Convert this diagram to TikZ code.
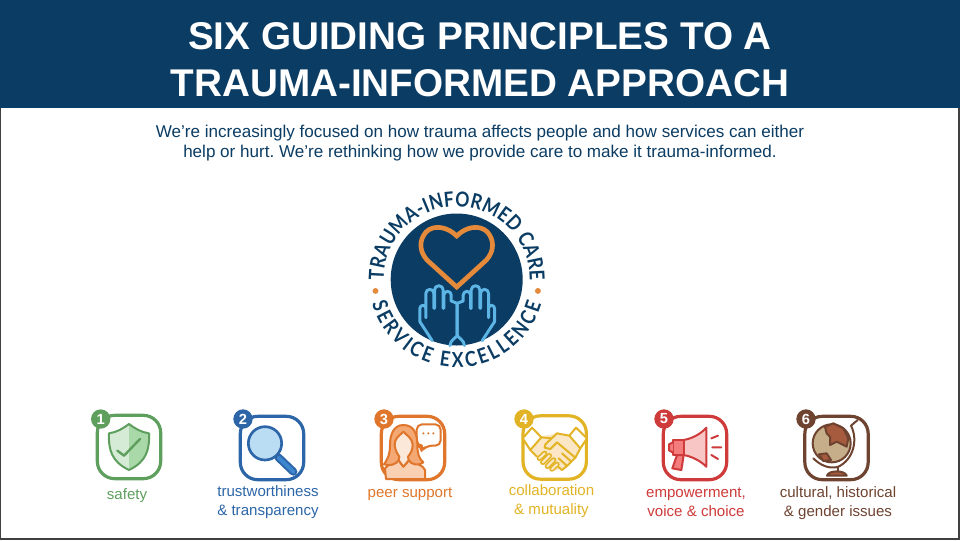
\documentclass[tikz,border=0pt]{standalone}
\usepackage{fontspec}
\usepackage{xcolor}
\usetikzlibrary{decorations.text}
\setmainfont{Liberation Sans}
\newfontfamily\logofont[FakeStretch=.85]{Lato}
\frenchspacing
\definecolor{navy}{HTML}{0B3C63}
\definecolor{heartc}{HTML}{E5893A}
\definecolor{handc}{HTML}{5DB5E6}
\definecolor{greenc}{HTML}{5E9F5E}
\definecolor{greenl}{HTML}{D5EBD5}
\definecolor{greenm}{HTML}{A9D8A9}
\definecolor{bluec}{HTML}{2C66A8}
\definecolor{bluel}{HTML}{BBDDF3}
\definecolor{bluem}{HTML}{3E87D0}
\definecolor{orangec}{HTML}{DF762B}
\definecolor{orangel}{HTML}{FCE8D9}
\definecolor{orangem}{HTML}{F9D0B2}
\definecolor{oranged}{HTML}{F4A873}
\definecolor{yellowc}{HTML}{E2B425}
\definecolor{yellowl}{HTML}{FBE7C6}
\definecolor{redc}{HTML}{CF3A3A}
\definecolor{redl}{HTML}{F9C6C6}
\definecolor{redm}{HTML}{F47C7C}
\definecolor{brownc}{HTML}{6E4330}
\definecolor{brownl}{HTML}{C7AE8A}
\definecolor{brownm}{HTML}{A65A3E}
\tikzset{
  zoomed/.style={x=.25pt,y=-.25pt},
  titletext/.style={font=\fontsize{29}{35}\selectfont\bfseries,text=white,align=center},
  leadtext/.style={font=\fontsize{12.8}{14.6}\selectfont,text=navy,align=center},
  iconbox/.style={draw=#1,line width=2.4pt,rounded corners=13pt,minimum size=47.5pt,fill=white,inner sep=0pt},
  badge/.style={circle,fill=#1,text=white,font=\fontsize{11}{11}\selectfont\bfseries,minimum size=14.5pt,inner sep=0pt},
  iconlabel/.style={text=#1,font=\fontsize{11.3}{14.2}\selectfont,align=center},
  ink/.style={draw=#1,line width=1.5pt,line join=round,line cap=round},
}
\newcommand{\logotext}[1]{|\logofont\bfseries\fontsize{15.5}{15.5}\selectfont\color{navy}|#1}
\begin{document}
\begin{tikzpicture}[x=.75pt,y=-.75pt]
\useasboundingbox (0,0) rectangle (960,540);
% Kopf
\fill[white] (0,0) rectangle (960,540);
\draw[black!75,line width=1.5pt] (0,0) rectangle (959,539);
\fill[navy] (0,0) rectangle (960,108);
\node[titletext] (title) at (480,60) {SIX GUIDING PRINCIPLES TO A\\TRAUMA-INFORMED APPROACH};
\node[leadtext] (lead) at (480,143) {We’re increasingly focused on how trauma affects people and how services can either\\help or hurt. We’re rethinking how we provide care to make it trauma-informed.};

% Logo
\coordinate (logo) at (456.7,279.5);
\node[circle,fill=navy,minimum size=99pt,inner sep=0pt] (disc) at (logo) {};
\path[decorate,decoration={text along path,text align={fit to path},text={\logotext{TRAUMA-INFORMED CARE}}}]
  (logo) ++(181:54.75pt) arc[start angle=181,end angle=-1,radius=54.75pt];
\path[decorate,decoration={text along path,text align={fit to path},text={\logotext{SERVICE EXCELLENCE}}}]
  (logo) ++(196:66pt) arc[start angle=196,end angle=344,radius=66pt];
\fill[heartc] (logo) ++(188:61.5pt) circle (2.2pt);
\fill[heartc] (logo) ++(-8:61.5pt) circle (2.2pt);
\draw[heartc,line width=3.5pt,line join=miter]
  (456.7,236) .. controls (448,227) and (434,224) .. (426,232)
  .. controls (419,240) and (419,251) .. (427,260) -- (456.7,287) -- (486.4,260)
  .. controls (494.4,251) and (494.4,240) .. (487.4,232)
  .. controls (479.4,224) and (465.4,227) .. (456.7,236) -- cycle;
\foreach \s in {1,-1}
  \draw[handc,line width=2.2pt,line join=round,line cap=round,shift={(457.2,275)},zoomed,xscale=\s]
    (75,197) -- (112,140) -- (112,100) arc[start angle=0,end angle=-180,radius=9] -- (94,128)
    (94,128) -- (94,55) arc[start angle=0,end angle=-180,radius=12] -- (70,100)
    (68,100) -- (68,45) arc[start angle=0,end angle=-180,radius=13] -- (42,100)
    (40,100) -- (40,60) arc[start angle=0,end angle=-180,radius=11] -- (18,78) -- (0,85) -- (0,180)
    .. controls (-2,185) and (22,195) .. (22,212);

% Rahmen der sechs Punkte
\foreach \n/\x/\y/\col in {1/129/447/greenc,2/272/448/bluec,3/413/448/orangec,4/554.7/447.5/yellowc,5/695/448/redc,6/836.5/448/brownc}
  \node[iconbox=\col] (box\n) at (\x,\y) {};

% Schild
\begin{scope}[shift={(85,405)},zoomed]
\fill[greenl] (132,57) .. controls (115,70) and (95,82) .. (72,85) .. controls (70,135) and (80,170) .. (132,195) -- cycle;
\fill[greenm] (132,57) .. controls (149,70) and (169,82) .. (192,85) .. controls (194,135) and (184,170) .. (132,195) -- cycle;
\draw[ink=greenc] (132,57) .. controls (115,70) and (95,82) .. (72,85) .. controls (70,135) and (80,170) .. (132,195)
  .. controls (184,170) and (194,135) .. (192,85) .. controls (169,82) and (149,70) .. (132,57) -- cycle;
\draw[ink=greenc,line width=1.8pt] (97,137) -- (117,152) -- (165,102);
\end{scope}
% Lupe
\begin{scope}[shift={(80,400)},zoomed]
\draw[bluec,line width=6pt,line cap=round] (595,172) -- (640,215);
\draw[bluem,line width=3pt,line cap=round] (597,174) -- (640,215);
\draw[bluec,line width=2pt,fill=bluel] (555,130) circle (50);
\end{scope}
% Frau
\begin{scope}[shift={(370,405)},zoomed]
\draw[ink=orangec,fill=white,rounded corners=4pt] (140,58) -- (212,58) -- (212,122) -- (170,122) -- (155,138) -- (155,122) -- (140,122) -- cycle;
\foreach \x in {160,175,190} \fill[orangec] (\x,85) circle (3.5);
\draw[ink=orangec,fill=orangem] (48,222) -- (45,190) .. controls (55,175) and (75,175) .. (85,165) -- (100,185) -- (118,165) .. controls (135,175) and (160,180) .. (165,195) -- (165,222) -- cycle;
\draw[ink=orangec,fill=oranged] (100,60) .. controls (70,60) and (60,90) .. (60,120) .. controls (60,145) and (55,160) .. (42,178) .. controls (60,184) and (80,178) .. (86,165) -- (116,165)
  .. controls (122,178) and (145,185) .. (160,172) .. controls (146,160) and (142,145) .. (142,118) .. controls (142,88) and (132,60) .. (100,60) -- cycle;
\draw[ink=orangec,fill=orangel] (100,80) .. controls (85,95) and (74,100) .. (74,120) .. controls (76,140) and (85,150) .. (88,155) -- (86,166) -- (100,185) -- (116,166) -- (114,155) .. controls (122,145) and (128,135) .. (128,118) .. controls (126,100) and (112,92) .. (100,80) -- cycle;
\end{scope}
% Haendedruck
\begin{scope}[shift={(512,405)},zoomed]
\fill[yellowl] (85,95) -- (135,85) -- (172,92) -- (205,132) -- (165,185) -- (135,195) -- (110,195) -- (60,135) -- cycle;
\draw[ink=yellowc,fill=white] (60,68) -- (88,97) -- (55,135) -- (32,100) -- cycle;
\draw[ink=yellowc,fill=white] (192,68) -- (225,100) -- (205,130) -- (172,92) -- cycle;
\draw[ink=yellowc] (172,92) -- (135,85) -- (100,118) -- (98,128) -- (115,132) -- (135,112) -- (190,158) -- (178,170);
\draw[ink=yellowc] (88,97) -- (118,100) (55,135) -- (75,155) (205,130) -- (190,158);
\draw[ink=yellowc] (178,170) -- (150,145) (178,170) -- (165,183) -- (140,160) (165,183) -- (150,195) -- (130,178);
\foreach \a/\b/\c/\d in {82/160/98/145,92/172/112/152,106/184/125/165,120/192/135/178} {
  \draw[yellowc,line width=4pt,line cap=round] (\a,\b) -- (\c,\d);
  \draw[yellowl,line width=1.6pt,line cap=round] (\a,\b) -- (\c,\d);
}
\end{scope}
% Megafon
\begin{scope}[shift={(653,405)},zoomed]
\draw[ink=redc,fill=redl] (92,105) .. controls (120,100) and (145,85) .. (160,68) -- (160,185) .. controls (145,170) and (120,155) .. (92,150) -- cycle;
\draw[ink=redc,fill=redm] (92,150) -- (85,195) -- (58,190) -- (72,150) -- cycle;
\draw[ink=redc,fill=redm] (60,105) -- (92,105) -- (92,150) -- (60,150) -- cycle;
\draw[ink=redc,fill=redm] (60,112) -- (48,118) -- (48,136) -- (60,143);
\draw[ink=redc] (175,100) -- (195,92) (178,127) -- (205,127) (175,150) -- (195,162);
\end{scope}
% Globus
\begin{scope}[shift={(795,405)},zoomed]
\draw[ink=brownc,fill=brownl] (110,115) circle (57);
\draw[ink=brownc,fill=brownm] (90,65) -- (115,55) -- (145,70) -- (160,100) -- (155,125) -- (125,110) -- (105,120) -- (105,95) -- (95,85) -- cycle;
\draw[ink=brownc,fill=brownm] (72,148) -- (95,145) -- (108,165) -- (85,168) -- cycle;
\draw[ink=brownc] (188,45) -- (168,62) .. controls (190,105) and (175,165) .. (128,186) .. controls (100,192) and (75,180) .. (55,160);
\draw[ink=brownc] (128,186) -- (128,200);
\draw[ink=brownc,fill=brownm] (96,212) .. controls (100,195) and (150,195) .. (155,212) -- cycle;
\end{scope}

% Nummern und Texte
\foreach \n/\x/\col in {1/100.7/greenc,2/243/bluec,3/384/orangec,4/524/yellowc,5/664/redc,6/806/brownc}
  \node[badge=\col] (num\n) at (\x,419) {\n};
\node[iconlabel=greenc] (lab1) at (127,496) {safety};
\node[iconlabel=bluec] (lab2) at (268,502.5) {trustworthiness\\\& transparency};
\node[iconlabel=orangec] (lab3) at (410,494) {peer support};
\node[iconlabel=yellowc] (lab4) at (551.5,501) {collaboration\\\& mutuality};
\node[iconlabel=redc] (lab5) at (696,502) {empowerment,\\voice \& choice};
\node[iconlabel=brownc] (lab6) at (838,503) {cultural, historical\\\& gender issues};
\end{tikzpicture}
\end{document}
